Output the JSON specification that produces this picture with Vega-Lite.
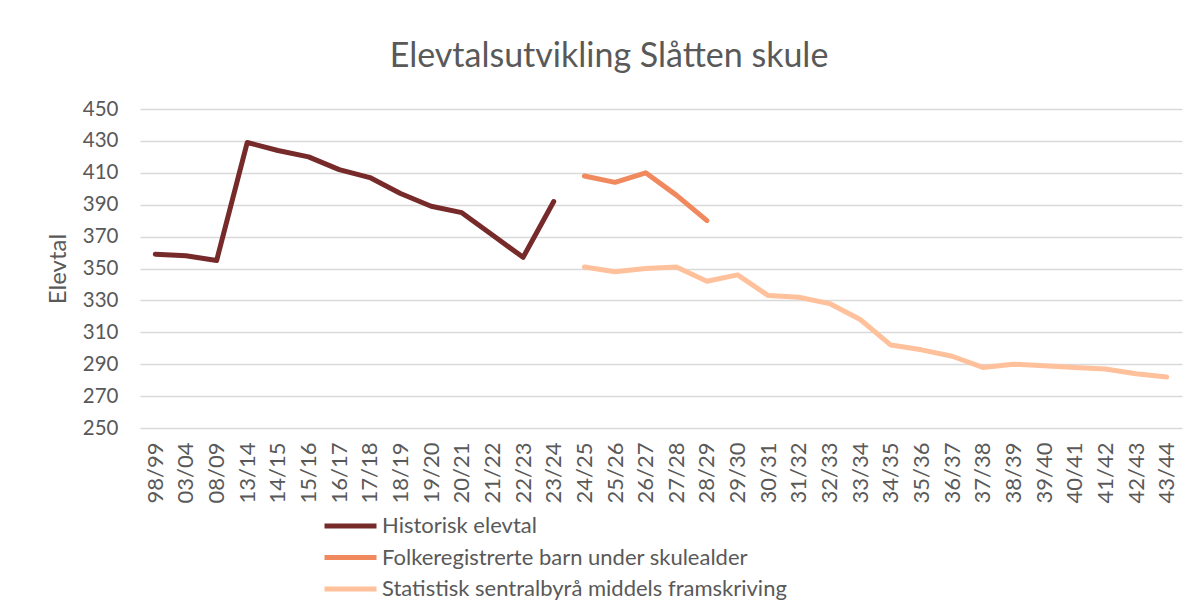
{
  "$schema": "https://vega.github.io/schema/vega-lite/v6.json",
  "width": 1042,
  "height": 319,
  "autosize": {"type": "none"},
  "padding": {"left": 140, "top": 109, "right": 16, "bottom": 184},
  "background": "white",
  "title": {
    "text": "Elevtalsutvikling Slåtten skule",
    "font": "Lato",
    "fontSize": 34,
    "fontWeight": "normal",
    "color": "#595959",
    "anchor": "middle",
    "dx": -52,
    "offset": 25
  },
  "data": {
    "values": [
      {"year": "98/99", "series": "Historisk elevtal", "value": 359},
      {"year": "03/04", "series": "Historisk elevtal", "value": 358},
      {"year": "08/09", "series": "Historisk elevtal", "value": 355},
      {"year": "13/14", "series": "Historisk elevtal", "value": 429},
      {"year": "14/15", "series": "Historisk elevtal", "value": 424},
      {"year": "15/16", "series": "Historisk elevtal", "value": 420},
      {"year": "16/17", "series": "Historisk elevtal", "value": 412},
      {"year": "17/18", "series": "Historisk elevtal", "value": 407},
      {"year": "18/19", "series": "Historisk elevtal", "value": 397},
      {"year": "19/20", "series": "Historisk elevtal", "value": 389},
      {"year": "20/21", "series": "Historisk elevtal", "value": 385},
      {"year": "21/22", "series": "Historisk elevtal", "value": 371},
      {"year": "22/23", "series": "Historisk elevtal", "value": 357},
      {"year": "23/24", "series": "Historisk elevtal", "value": 392},
      {"year": "24/25", "series": "Folkeregistrerte barn under skulealder", "value": 408},
      {"year": "25/26", "series": "Folkeregistrerte barn under skulealder", "value": 404},
      {"year": "26/27", "series": "Folkeregistrerte barn under skulealder", "value": 410},
      {"year": "27/28", "series": "Folkeregistrerte barn under skulealder", "value": 396},
      {"year": "28/29", "series": "Folkeregistrerte barn under skulealder", "value": 380},
      {"year": "24/25", "series": "Statistisk sentralbyrå middels framskriving", "value": 351},
      {"year": "25/26", "series": "Statistisk sentralbyrå middels framskriving", "value": 348},
      {"year": "26/27", "series": "Statistisk sentralbyrå middels framskriving", "value": 350},
      {"year": "27/28", "series": "Statistisk sentralbyrå middels framskriving", "value": 351},
      {"year": "28/29", "series": "Statistisk sentralbyrå middels framskriving", "value": 342},
      {"year": "29/30", "series": "Statistisk sentralbyrå middels framskriving", "value": 346},
      {"year": "30/31", "series": "Statistisk sentralbyrå middels framskriving", "value": 333},
      {"year": "31/32", "series": "Statistisk sentralbyrå middels framskriving", "value": 332},
      {"year": "32/33", "series": "Statistisk sentralbyrå middels framskriving", "value": 328},
      {"year": "33/34", "series": "Statistisk sentralbyrå middels framskriving", "value": 318},
      {"year": "34/35", "series": "Statistisk sentralbyrå middels framskriving", "value": 302},
      {"year": "35/36", "series": "Statistisk sentralbyrå middels framskriving", "value": 299},
      {"year": "36/37", "series": "Statistisk sentralbyrå middels framskriving", "value": 295},
      {"year": "37/38", "series": "Statistisk sentralbyrå middels framskriving", "value": 288},
      {"year": "38/39", "series": "Statistisk sentralbyrå middels framskriving", "value": 290},
      {"year": "39/40", "series": "Statistisk sentralbyrå middels framskriving", "value": 289},
      {"year": "40/41", "series": "Statistisk sentralbyrå middels framskriving", "value": 288},
      {"year": "41/42", "series": "Statistisk sentralbyrå middels framskriving", "value": 287},
      {"year": "42/43", "series": "Statistisk sentralbyrå middels framskriving", "value": 284},
      {"year": "43/44", "series": "Statistisk sentralbyrå middels framskriving", "value": 282}
    ]
  },
  "mark": {"type": "line", "strokeWidth": 5, "strokeCap": "round", "strokeJoin": "round"},
  "encoding": {
    "x": {
      "field": "year",
      "type": "ordinal",
      "sort": ["98/99","03/04","08/09","13/14","14/15","15/16","16/17","17/18","18/19","19/20","20/21","21/22","22/23","23/24","24/25","25/26","26/27","27/28","28/29","29/30","30/31","31/32","32/33","33/34","34/35","35/36","36/37","37/38","38/39","39/40","40/41","41/42","42/43","43/44"],
      "scale": {"type": "point", "padding": 0.5},
      "axis": {
        "title": null,
        "labelAngle": -90,
        "labelFont": "Lato",
        "labelFontSize": 22,
        "labelColor": "#595959",
        "labelPadding": 14,
        "ticks": false,
        "domain": false,
        "grid": false
      }
    },
    "y": {
      "field": "value",
      "type": "quantitative",
      "scale": {"domain": [250, 450], "nice": false, "zero": false},
      "axis": {
        "title": "Elevtal",
        "titleFont": "Lato",
        "titleFontSize": 24,
        "titleFontWeight": "normal",
        "titleColor": "#595959",
        "titlePadding": 12,
        "values": [250,270,290,310,330,350,370,390,410,430,450],
        "labelFont": "Lato",
        "labelFontSize": 20.5,
        "labelColor": "#595959",
        "labelPadding": 22,
        "ticks": false,
        "domain": false,
        "grid": true,
        "gridColor": "#d9d9d9",
        "gridWidth": 1.5
      }
    },
    "color": {
      "field": "series",
      "type": "nominal",
      "sort": ["Historisk elevtal", "Folkeregistrerte barn under skulealder", "Statistisk sentralbyrå middels framskriving"],
      "scale": {
        "domain": ["Historisk elevtal", "Folkeregistrerte barn under skulealder", "Statistisk sentralbyrå middels framskriving"],
        "range": ["#772a2a", "#f0895e", "#ffc19c"]
      },
      "legend": {
        "title": null,
        "orient": "none",
        "legendX": 182,
        "legendY": 403,
        "direction": "vertical",
        "symbolType": "stroke",
        "symbolSize": 2704,
        "symbolStrokeWidth": 5,
        "labelFont": "Lato",
        "labelFontSize": 22,
        "labelColor": "#595959",
        "labelOffset": 3,
        "labelLimit": 600,
        "clipHeight": 28,
        "rowPadding": 3.5
      }
    }
  },
  "config": {
    "view": {"stroke": null}
  }
}
